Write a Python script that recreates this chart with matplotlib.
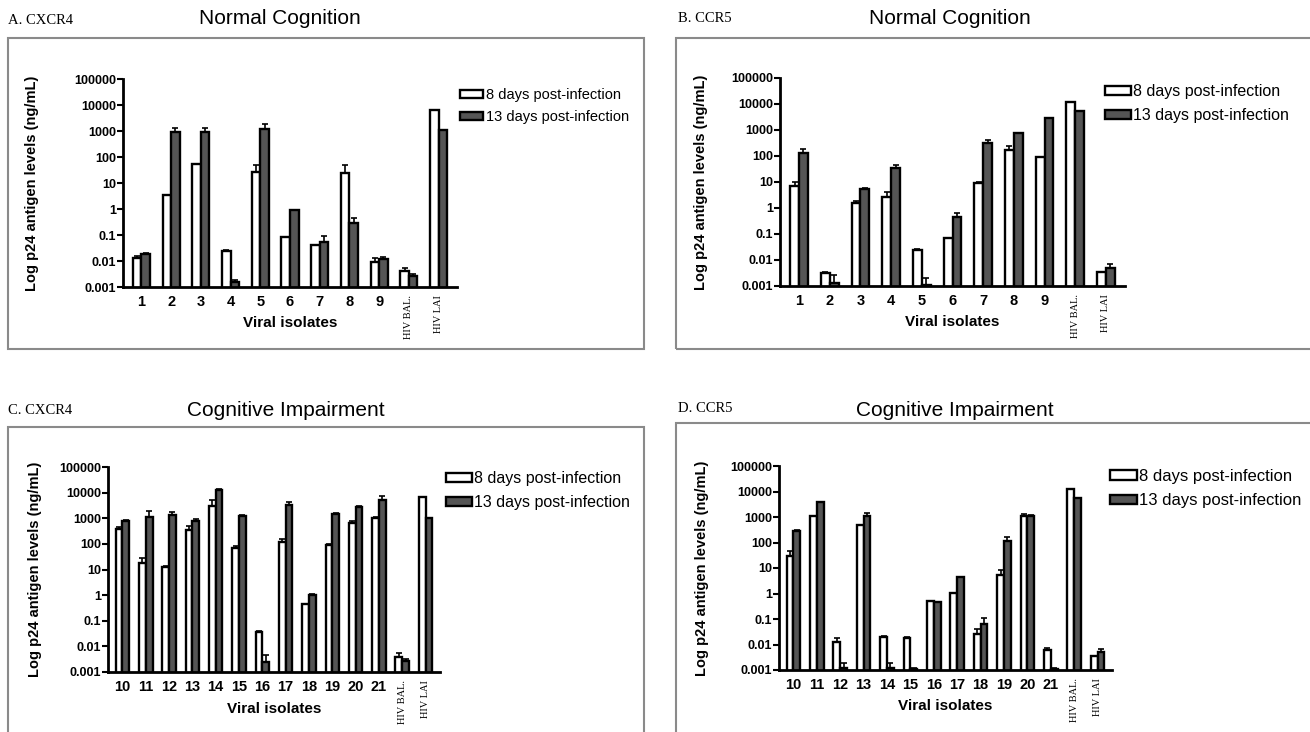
import matplotlib.pyplot as plt
import numpy as np
from matplotlib.patches import Rectangle

# Datos (p24, ng/mL)
isolates_top = ['1', '2', '3', '4', '5', '6', '7', '8', '9', 'HIV BAL.', 'HIV LAI']
isolates_bottom = ['10', '11', '12', '13', '14', '15', '16', '17', '18', '19', '20', '21',
                   'HIV BAL.', 'HIV LAI']

# A. CXCR4 - Normal Cognition
a_d8 = [0.013, 3.5, 55, 0.024, 27, 0.085, 0.042, 25, 0.0095, 0.004, 6500]
a_d8_top = [0.016, 3.5, 55, 0.026, 48, 0.085, 0.042, 50, 0.013, 0.0055, 6500]
a_d13 = [0.019, 900, 900, 0.0016, 1200, 0.95, 0.055, 0.3, 0.012, 0.0026, 1050]
a_d13_top = [0.02, 1250, 1250, 0.0018, 1800, 0.95, 0.09, 0.45, 0.014, 0.0032, 1050]

# B. CCR5 - Normal Cognition
b_d8 = [7.2, 0.0033, 1.5, 2.7, 0.024, 0.068, 9, 165, 93, 12000, 0.0035]
b_d8_top = [10, 0.0035, 1.8, 4.2, 0.027, 0.068, 10, 240, 93, 12000, 0.0035]
b_d13 = [125, 0.0013, 5.5, 35, 0.0011, 0.45, 310, 800, 2900, 5300, 0.005]
b_d13_top = [180, 0.0027, 6, 45, 0.002, 0.65, 430, 800, 2900, 5300, 0.0068]

# C. CXCR4 - Cognitive Impairment
c_d8 = [380, 18, 13, 350, 3000, 66, 0.035, 120, 0.45, 88, 680, 1000, 0.004, 6500]
c_d8_top = [450, 27, 14, 480, 5200, 80, 0.04, 150, 0.45, 95, 750, 1100, 0.0055, 6500]
c_d13 = [800, 1150, 1400, 800, 12500, 1250, 0.0024, 3300, 1.05, 1500, 2700, 5000, 0.0026, 1050]
c_d13_top = [850, 1900, 1700, 900, 13500, 1300, 0.0045, 4500, 1.1, 1600, 2900, 7500, 0.0032, 1050]

# D. CCR5 - Cognitive Impairment
d_d8 = [30, 1100, 0.0125, 480, 0.0195, 0.018, 0.5, 1.05, 0.027, 5.5, 1100, 0.0063, 12500, 0.0036]
d_d8_top = [48, 1100, 0.018, 480, 0.021, 0.019, 0.5, 1.05, 0.04, 8.5, 1300, 0.0072, 12500, 0.0036]
d_d13 = [290, 3800, 0.0012, 1050, 0.0012, 0.0011, 0.47, 4.4, 0.065, 115, 1100, 0.0011, 5500, 0.005]
d_d13_top = [300, 3900, 0.0018, 1400, 0.0018, 0.0012, 0.47, 4.6, 0.11, 165, 1250, 0.0012, 5500, 0.0068]

y_ticks = [0.001, 0.01, 0.1, 1, 10, 100, 1000, 10000, 100000]
y_tick_labels = ['0.001', '0.01', '0.1', '1', '10', '100', '1000', '10000', '100000']
series_names = ['8 days post-infection', '13 days post-infection']

W, H = 1310, 732
plt.rcParams['font.family'] = ['Liberation Sans', 'DejaVu Sans']
fig = plt.figure(figsize=(W / 100, H / 100), dpi=100)


def px(x0, y0, x1, y1):
    # rectangulo en pixeles -> fracciones de figura
    return [x0 / W, 1 - y1 / H, (x1 - x0) / W, (y1 - y0) / H]


def panel(rect, labels, d8, d8_top, d13, d13_top, ylab_x, xlab_y, leg_xy, leg_fs):
    ax = fig.add_axes(rect)
    n = len(labels)
    x = np.arange(n)
    w = 0.29
    d8 = np.array(d8)
    d13 = np.array(d13)
    err8 = [np.zeros(n), np.array(d8_top) - d8]
    err13 = [np.zeros(n), np.array(d13_top) - d13]
    b1 = ax.bar(x - w / 2, d8, w, color='white', edgecolor='black', linewidth=1.7,
                yerr=err8, capsize=2.5, error_kw=dict(elinewidth=1.2, capthick=1.2))
    b2 = ax.bar(x + w / 2, d13, w, color='#555555', edgecolor='black', linewidth=1.7,
                yerr=err13, capsize=2.5, error_kw=dict(elinewidth=1.2, capthick=1.2))
    ax.set_yscale('log')
    ax.set_ylim(0.001, 100000)
    ax.set_xlim(-0.62, n - 0.38)
    ax.minorticks_off()
    ax.set_yticks(y_ticks)
    ax.set_yticklabels(y_tick_labels, fontsize=9, fontweight='bold')
    ax.set_xticks(x)
    ax.set_xticklabels(labels)
    for t in ax.get_xticklabels():
        if t.get_text().startswith('HIV'):
            t.set_family('Liberation Serif')
            t.set_fontsize(7.5)
            t.set_rotation(90)
            t.set_va('top')
        else:
            t.set_fontsize(10.5)
            t.set_fontweight('bold')
    ax.tick_params(axis='x', length=0, pad=6)
    ax.tick_params(axis='y', length=4, width=1.5, pad=1)
    for s in ['top', 'right']:
        ax.spines[s].set_visible(False)
    for s in ['left', 'bottom']:
        ax.spines[s].set_linewidth(2)
    ax.set_ylabel('Log p24 antigen levels (ng/mL)', fontsize=10.5, fontweight='bold')
    ax.yaxis.set_label_coords(ylab_x, 0.5)
    ax.set_xlabel('Viral isolates', fontsize=11, fontweight='bold')
    ax.xaxis.set_label_coords(0.5, xlab_y)
    ax.legend([b1, b2], series_names, loc='upper left', frameon=False,
              bbox_to_anchor=(leg_xy[0] / W, 1 - leg_xy[1] / H),
              bbox_transform=fig.transFigure, fontsize=leg_fs,
              borderpad=0, borderaxespad=0, handlelength=1.6, handleheight=0.5,
              handletextpad=0.15, labelspacing=0.55)
    return ax


panel(px(123, 79, 457, 287), isolates_top, a_d8, a_d8_top, a_d13, a_d13_top,
      -0.25, -0.14, (460, 88), 10.5)
panel(px(780, 78, 1125, 286), isolates_top, b_d8, b_d8_top, b_d13, b_d13_top,
      -0.21, -0.14, (1105, 84), 11.5)
panel(px(108, 467, 440, 672), isolates_bottom, c_d8, c_d8_top, c_d13, c_d13_top,
      -0.20, -0.146, (446, 471), 11.5)
panel(px(779, 466, 1112, 670), isolates_bottom, d_d8, d_d8_top, d_d13, d_d13_top,
      -0.21, -0.142, (1110, 469), 12)

# Marcos grises de cada panel
for (x0, y0, x1, y1) in [(8, 38, 644, 349), (676, 38, 1320, 349),
                         (8, 427, 644, 745), (676, 423, 1320, 745)]:
    fig.patches.append(Rectangle((x0 / W, 1 - y1 / H), (x1 - x0) / W, (y1 - y0) / H,
                                 transform=fig.transFigure, fill=False,
                                 edgecolor='#8a8a8a', linewidth=1.5))

# Titulos y etiquetas de panel
fig.text(280 / W, 1 - 18 / H, 'Normal Cognition', ha='center', va='center', fontsize=15)
fig.text(950 / W, 1 - 18 / H, 'Normal Cognition', ha='center', va='center', fontsize=15)
fig.text(286 / W, 1 - 411 / H, 'Cognitive Impairment', ha='center', va='center', fontsize=15)
fig.text(955 / W, 1 - 411 / H, 'Cognitive Impairment', ha='center', va='center', fontsize=15)
fig.text(8 / W, 1 - 21 / H, 'A. CXCR4', ha='left', va='center', fontsize=10.5,
         family='Liberation Serif')
fig.text(678 / W, 1 - 19 / H, 'B. CCR5', ha='left', va='center', fontsize=10.5,
         family='Liberation Serif')
fig.text(8 / W, 1 - 411 / H, 'C. CXCR4', ha='left', va='center', fontsize=10.5,
         family='Liberation Serif')
fig.text(678 / W, 1 - 409 / H, 'D. CCR5', ha='left', va='center', fontsize=10.5,
         family='Liberation Serif')

plt.savefig('out.png', dpi=100)
